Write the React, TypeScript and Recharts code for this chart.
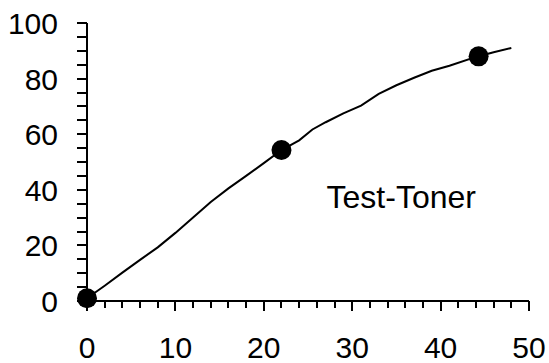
import { ComposedChart, Line, Scatter, XAxis, YAxis } from 'recharts'

// Kurve
const kurveX = [0, 2, 4, 6, 8, 10, 12, 14, 16, 18, 20, 22, 24, 25.5, 27, 29, 31, 33, 35, 37, 39, 41, 44, 46, 48]
const kurveY = [1, 5.5, 10.2, 14.8, 19.3, 24.5, 30, 35.6, 40.5, 45, 49.6, 54.3, 57.8, 61.7, 64.3, 67.5, 70.3, 74.5, 77.6, 80.3, 82.8, 84.6, 87.8, 89.5, 91]

// Messpunkte
const punkteX = [0, 22, 44.3]
const punkteY = [1, 54.3, 88]

const xTicks = [0, 2, 4, 6, 8, 10, 12, 14, 16, 18, 20, 22, 24, 26, 28, 30, 32, 34, 36, 38, 40, 42, 44, 46, 48, 50]
const yTicks = [0, 5, 10, 15, 20, 25, 30, 35, 40, 45, 50, 55, 60, 65, 70, 75, 80, 85, 90, 95, 100]

const beschriftung = 'Test-Toner'
const beschriftungX = 27.1
const beschriftungY = 33.3

const font = '"Liberation Sans", Arial, sans-serif'

const kurve = kurveX.map((x, i) => ({ x, y: kurveY[i] }))
const punkte = punkteX.map((x, i) => ({ x, y: punkteY[i] }))
const label = [{ x: beschriftungX, y: beschriftungY }]

const XTick = (props: any) => {
  const { x, y, payload } = props
  const major = payload.value % 10 === 0
  return (
    <g>
      <line x1={x} x2={x} y1={y} y2={y + (major ? 10 : 7)} stroke="#000" strokeWidth={2} shapeRendering="crispEdges" />
      {major && (
        <text x={x} y={y + 57} textAnchor="middle" fontSize={30} fontFamily={font} fill="#000">
          {payload.value}
        </text>
      )}
    </g>
  )
}

const YTick = (props: any) => {
  const { x, y, payload } = props
  const major = payload.value % 20 === 0
  return (
    <g>
      <line x1={x - 10} x2={x} y1={y} y2={y} stroke="#000" strokeWidth={2} shapeRendering="crispEdges" />
      {major && (
        <text x={x - 29} y={y + 11} textAnchor="end" fontSize={30} fontFamily={font} fill="#000">
          {payload.value}
        </text>
      )}
    </g>
  )
}

export default function App() {
  return (
    <div style={{ position: 'absolute', left: 0, top: 0, background: '#fff' }}>
      <ComposedChart width={549} height={363} margin={{ top: 23, right: 20, bottom: 0, left: 0 }}>
        <XAxis
          type="number"
          dataKey="x"
          domain={[0, 50]}
          ticks={xTicks}
          interval={0}
          tickSize={0}
          tickMargin={0}
          tickLine={false}
          tick={<XTick />}
          height={62}
          axisLine={{ stroke: '#000', strokeWidth: 2, shapeRendering: 'crispEdges' }}
        />
        <YAxis
          type="number"
          dataKey="y"
          domain={[0, 100]}
          ticks={yTicks}
          interval={0}
          tickSize={0}
          tickMargin={0}
          tickLine={false}
          tick={<YTick />}
          width={87}
          axisLine={{ stroke: '#000', strokeWidth: 2, shapeRendering: 'crispEdges' }}
        />
        <Line
          data={kurve}
          dataKey="y"
          type="linear"
          stroke="#000"
          strokeWidth={2}
          dot={false}
          activeDot={false}
          isAnimationActive={false}
        />
        <Scatter
          data={punkte}
          dataKey="y"
          fill="#000"
          isAnimationActive={false}
          shape={(p: any) => <circle cx={p.cx} cy={p.cy} r={10} fill="#000" />}
        />
        <Scatter
          data={label}
          dataKey="y"
          isAnimationActive={false}
          shape={(p: any) => (
            <text x={p.cx} y={p.cy} fontSize={32} fontFamily={font} fill="#000">
              {beschriftung}
            </text>
          )}
        />
      </ComposedChart>
    </div>
  )
}
